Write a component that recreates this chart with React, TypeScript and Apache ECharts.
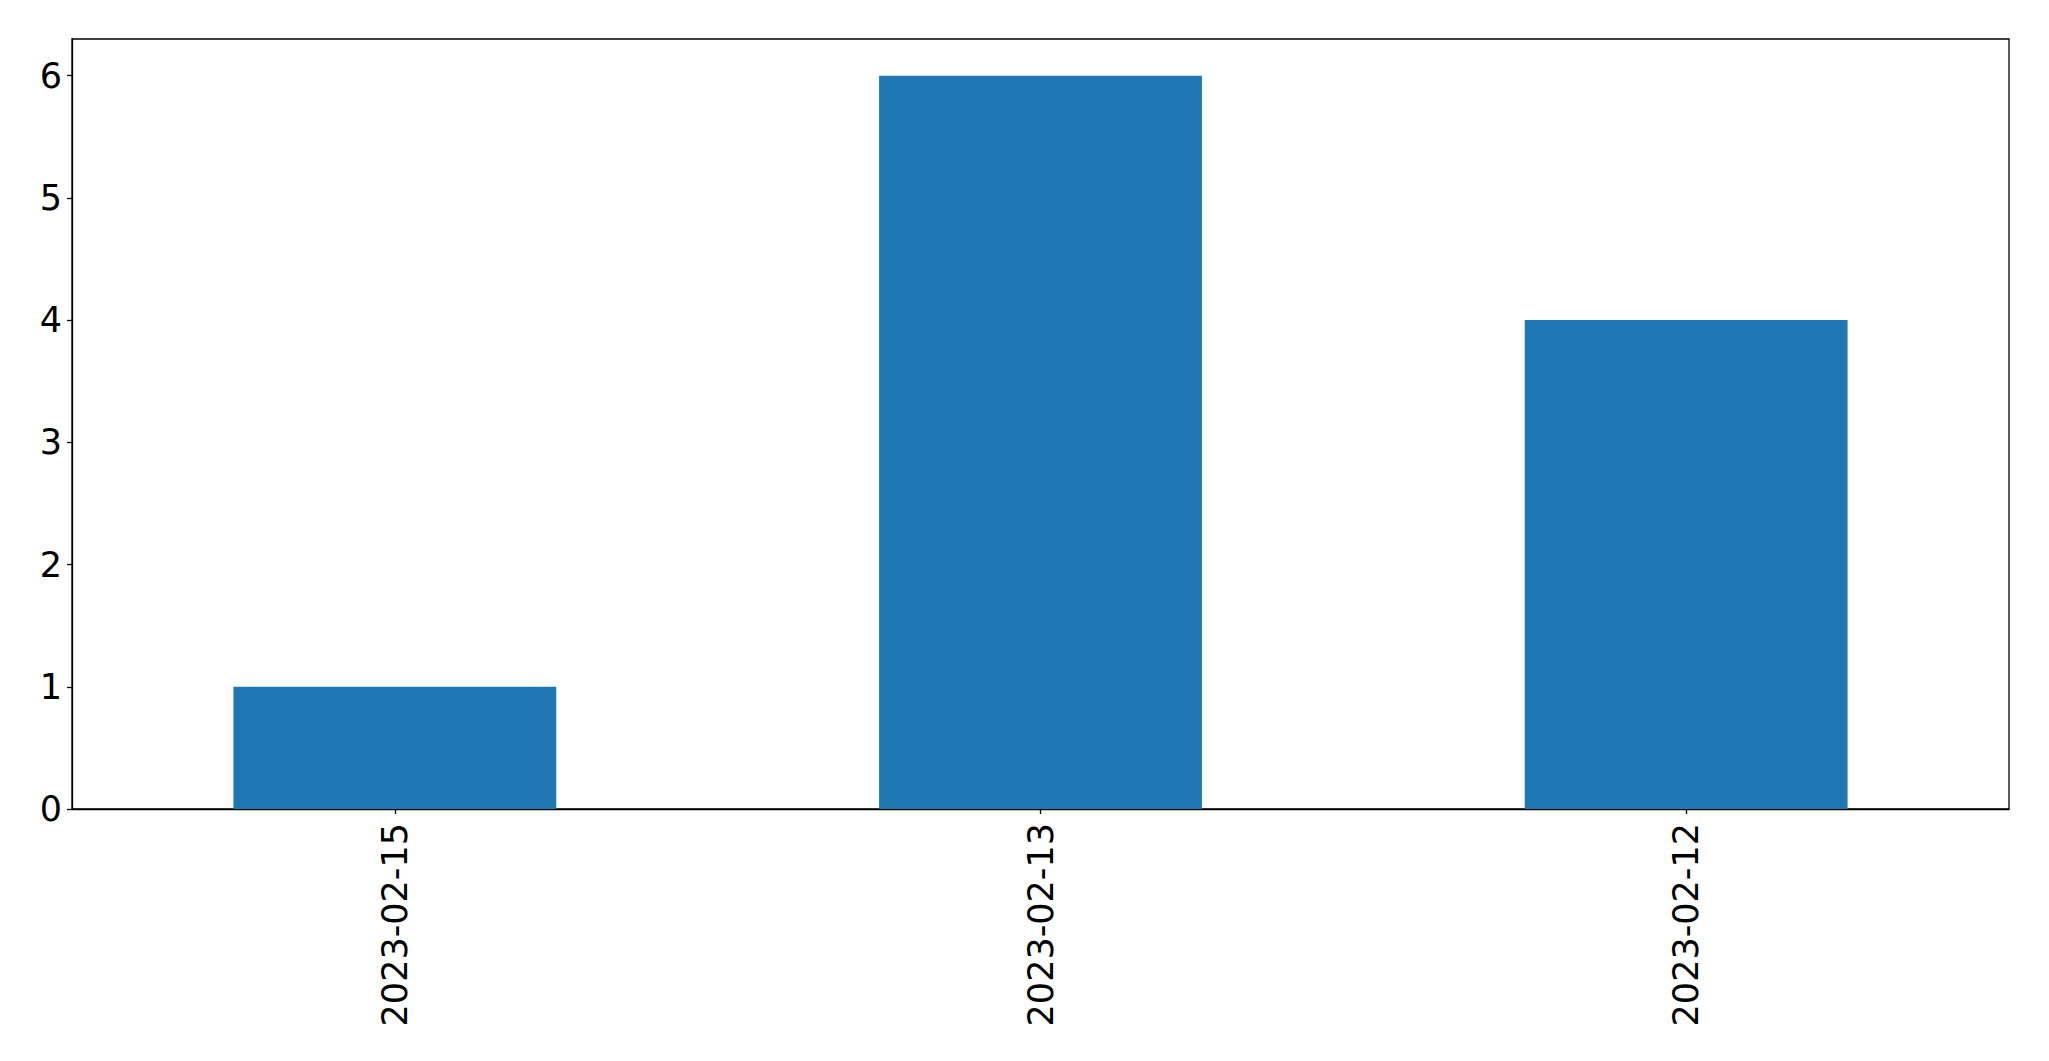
import React, { useEffect, useRef } from "react";
import * as echarts from "echarts";

const categories = ["2023-02-15", "2023-02-13", "2023-02-12"];
const values = [1, 6, 4];
const yTicks = [0, 1, 2, 3, 4, 5, 6];

export default function App() {
  const ref = useRef<HTMLDivElement>(null);
  useEffect(() => {
    if (!ref.current) return;
    const chart = echarts.init(ref.current, undefined, { renderer: "svg" });
    const font = "DejaVu Sans";
    chart.setOption({
      animation: false,
      backgroundColor: "#ffffff",
      grid: {
        left: 72,
        top: 39,
        width: 1937,
        height: 770,
        show: true,
        borderColor: "#000000",
        borderWidth: 1.3,
        containLabel: false,
      },
      xAxis: {
        type: "category",
        data: categories,
        boundaryGap: true,
        axisLine: { show: true, lineStyle: { color: "#000", width: 1.3 } },
        axisTick: { show: true, alignWithLabel: true, length: 5, lineStyle: { color: "#000", width: 1.3 } },
        axisLabel: {
          rotate: 90,
          fontSize: 35,
          fontFamily: font,
          color: "#000",
          margin: 14,
        },
        splitLine: { show: false },
      },
      yAxis: {
        type: "value",
        min: 0,
        max: 6.3,
        interval: 1,
        axisLine: { show: true, lineStyle: { color: "#000", width: 1.3 } },
        axisTick: {
          show: true,
          length: 5,
          customValues: yTicks,
          lineStyle: { color: "#000", width: 1.3 },
        },
        axisLabel: {
          fontSize: 35,
          fontFamily: font,
          color: "#000",
          margin: 10,
          customValues: yTicks,
        },
        splitLine: { show: false },
      },
      series: [
        {
          type: "bar",
          data: values,
          barWidth: "50%",
          itemStyle: { color: "#1f77b4" },
        },
      ],
    });
    return () => chart.dispose();
  }, []);
  return (
    <div
      ref={ref}
      style={{ position: "fixed", left: 0, top: 0, width: 2049, height: 1061 }}
    />
  );
}
